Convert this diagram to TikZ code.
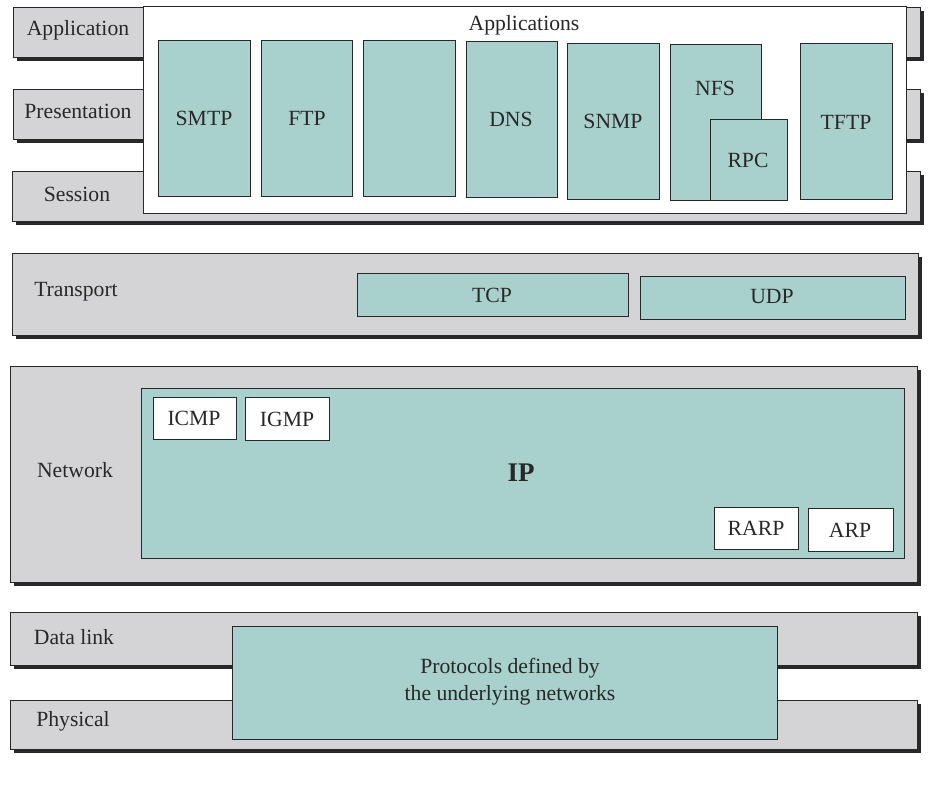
\documentclass[tikz,border=0pt]{standalone}
\usepackage{fontspec}
\setmainfont{Liberation Serif}
\usetikzlibrary{shadows}
\definecolor{laygray}{RGB}{212,212,214}
\definecolor{prototeal}{RGB}{168,208,204}
\definecolor{inkgray}{RGB}{40,40,40}
\tikzset{
  layer/.style={fill=laygray,draw=inkgray,line width=0.6pt,
    drop shadow={shadow xshift=0.12cm,shadow yshift=-0.12cm,fill=inkgray,opacity=1}},
  proto/.style={fill=prototeal,draw=inkgray,line width=0.6pt},
  smallbox/.style={fill=white,draw=inkgray,line width=0.6pt},
  lbl/.style={text=inkgray,font=\fontsize{18.5}{23}\selectfont}
}

\begin{document}
\begin{tikzpicture}[x=0.03cm,y=-0.03cm]
\useasboundingbox (0,0) rectangle (932,786);
\fill[white] (0,0) rectangle (932,786);
% upper three layers
\draw[layer] (13,7) rectangle (920,57);
\draw[layer] (13,89) rectangle (920,139);
\draw[layer] (12,171) rectangle (920,221);
\draw[smallbox] (143,6) rectangle (906,213);
\node[lbl] (application) at (78,30) {Application};
\node[lbl] (presentation) at (78,111) {Presentation};
\node[lbl] (session) at (77,194) {Session};
\node[lbl] (apps) at (524,25) {Applications};
% application protocols
\draw[proto] (158,40) rectangle (250,196);
\draw[proto] (261,40) rectangle (352,196);
\draw[proto] (363,40) rectangle (455,196);
\draw[proto] (466,41) rectangle (557,197);
\draw[proto] (567,43) rectangle (659,199);
\draw[proto] (670,44) rectangle (761,200);
\draw[proto] (710,119) rectangle (787,200);
\draw[proto] (800,43) rectangle (892,199);
\node[lbl] (smtp) at (204,118) {SMTP};
\node[lbl] (ftp) at (307,118) {FTP};
\node[lbl] (dns) at (511,119) {DNS};
\node[lbl] (snmp) at (613,121) {SNMP};
\node[lbl] (nfs) at (715,88) {NFS};
\node[lbl] (rpc) at (748,160) {RPC};
\node[lbl] (tftp) at (846,122) {TFTP};
% transport
\draw[layer] (12,253) rectangle (918,335);
\node[lbl] (transport) at (76,292) {Transport};
\draw[proto] (357,273) rectangle (628,316);
\draw[proto] (640,276) rectangle (905,319);
\node[lbl] (tcp) at (492,295) {TCP};
\node[lbl] (udp) at (772,297) {UDP};
% network
\draw[layer] (10,366) rectangle (917,582);
\node[lbl] (network) at (75,470) {Network};
\draw[proto] (141,388) rectangle (904,558);
\draw[smallbox] (153,397) rectangle (236,439);
\draw[smallbox] (245,397) rectangle (329,440);
\draw[smallbox] (714,507) rectangle (798,549);
\draw[smallbox] (808,508) rectangle (893,551);
\node[lbl] (icmp) at (194,418) {ICMP};
\node[lbl] (igmp) at (287,419) {IGMP};
\node[lbl] (rarp) at (756,528) {RARP};
\node[lbl] (arp) at (850,530) {ARP};
\node[text=inkgray,font=\fontsize{23}{26}\selectfont\bfseries] (ip) at (521,473) {IP};
% data link and physical
\draw[layer] (10,612) rectangle (917,665);
\draw[layer] (10,700) rectangle (917,749);
\node[lbl] (datalink) at (74,637) {Data link};
\node[lbl] (physical) at (73,721) {Physical};
\draw[proto] (232,626) rectangle (777,739);
\node[lbl,align=center] (underlying) at (510,682) {Protocols defined by\\the underlying networks};
\end{tikzpicture}
\end{document}
